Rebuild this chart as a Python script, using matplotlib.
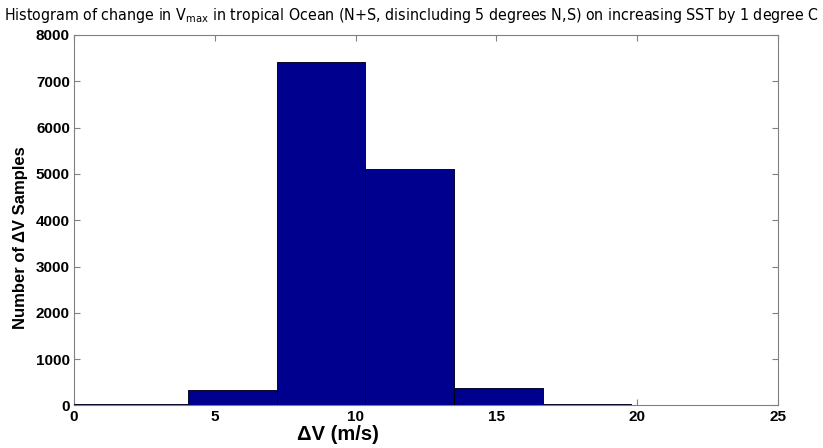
import matplotlib
matplotlib.use("Agg")
import matplotlib.pyplot as plt
import numpy as np

bin_edges = [-2.25, 0.9, 4.05, 7.2, 10.35, 13.5, 16.65, 19.8, 22.95]
counts = [25, 25, 340, 7420, 5100, 370, 40, 10]
x_ticks = [0, 5, 10, 15, 20, 25]
y_ticks = [0, 1000, 2000, 3000, 4000, 5000, 6000, 7000, 8000]

plt.rcParams['font.family'] = ['Liberation Sans', 'DejaVu Sans']

fig = plt.figure(figsize=(8.23, 4.48), dpi=100)
ax = fig.add_axes([0.090, 0.095, 0.855, 0.827])

lefts = np.array(bin_edges[:-1])
widths = np.diff(bin_edges)
ax.bar(lefts, counts, width=widths, align='edge', color='#00008F',
       edgecolor='#00008F', linewidth=0.5, zorder=3)
ax.bar(lefts, counts, width=widths, align='edge', fill=False,
       edgecolor='black', linewidth=0.5, zorder=3.1)

ax.set_xlim(0, 25)
ax.set_ylim(0, 8000)
ax.set_xticks(x_ticks)
ax.set_yticks(y_ticks)
ax.tick_params(direction='in', length=4, color='#808080', top=True, right=True,
               labelsize=11, pad=3)
for lab in ax.get_xticklabels() + ax.get_yticklabels():
    lab.set_fontweight('bold')
for s in ax.spines.values():
    s.set_color('#808080')
    s.set_linewidth(0.8)
    s.set_zorder(2)

ax.set_xlabel('ΔV (m/s)', fontsize=14.5, fontweight='bold', va='center')
ax.xaxis.set_label_coords((338 - 74) / 704, -(435 - 405.5) / 370)
ax.set_ylabel('Number of ΔV Samples', fontsize=12, fontweight='bold', va='center')
ax.yaxis.set_label_coords(-(74 - 20) / 704, (405.5 - 238) / 370)

fig.text(0.5, 0.965,
         r'Histogram of change in V$_{\mathregular{max}}$ in tropical Ocean (N+S, disincluding 5 degrees N,S) on increasing SST by 1 degree C',
         ha='center', va='center', fontsize=11.4,
         family='DejaVu Sans', fontstretch='condensed')

fig.savefig('out.png', dpi=100)
